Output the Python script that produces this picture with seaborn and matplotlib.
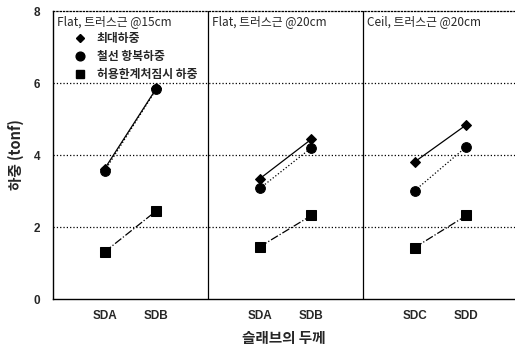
import matplotlib
matplotlib.use('Agg')
import matplotlib.pyplot as plt
import pandas as pd
import numpy as np
import seaborn as sns
from matplotlib.lines import Line2D

# data
panelTitles = ['Flat, 트러스근 @15cm', 'Flat, 트러스근 @20cm', 'Ceil, 트러스근 @20cm']
tickLabels = ['SDA', 'SDB', 'SDA', 'SDB', 'SDC', 'SDD']
seriesNames = ['최대하중', '철선 항복하중', '허용한계처짐시 하중']
maxLoad = [3.62, 5.85, 3.34, 4.44, 3.81, 4.84]
yieldLoad = [3.56, 5.83, 3.07, 4.20, 3.01, 4.23]
deflLoad = [1.31, 2.45, 1.45, 2.32, 1.43, 2.32]

xpos = [1, 2, 4, 5, 7, 8]
panel = [0, 0, 1, 1, 2, 2]

rows = []
for name, vals in zip(seriesNames, [maxLoad, yieldLoad, deflLoad]):
    for x, p, v in zip(xpos, panel, vals):
        rows.append({'x': x, 'panel': p, 'series': name, 'load': v})
df = pd.DataFrame(rows)

sns.set_style('white')
plt.rcParams['font.family'] = ['Noto Sans CJK KR', 'DejaVu Sans']

styles = {
    seriesNames[0]: dict(marker='D', ls='-', ms=5),
    seriesNames[1]: dict(marker='o', ls=':', ms=7),
    seriesNames[2]: dict(marker='s', ls='-.', ms=7),
}

fig = plt.figure(figsize=(5.15, 3.51), dpi=100)
ax = fig.add_axes([53/515, 1-299/351, 1-53/515, (299-11)/351])

for (name, p), g in df.groupby(['series', 'panel'], sort=False):
    st = styles[name]
    sns.lineplot(data=g, x='x', y='load', ax=ax, color='black', lw=0.9,
                 linestyle=st['ls'], marker=st['marker'], markersize=st['ms'],
                 markeredgecolor='black', markerfacecolor='black', legend=False)

ax.set_xlim(0, 8.94)
ax.set_ylim(0, 8)
ax.set_yticks([0, 2, 4, 6, 8])
ax.set_xticks(xpos)
ax.set_xticklabels(tickLabels, fontsize=8.5, fontweight='bold', family='Liberation Sans')
ax.set_yticklabels(['0', '2', '4', '6', '8'], fontsize=8.5, fontweight='bold', family='Liberation Sans')
ax.tick_params(axis='x', direction='in', length=3, pad=8)
ax.tick_params(axis='y', length=0, pad=9)

for yv in [2, 4, 6]:
    ax.axhline(yv, color='black', ls=':', lw=0.9)
for xv in [3, 6]:
    ax.axvline(xv, color='black', lw=0.9)

ax.spines['top'].set_linestyle(':')
ax.spines['top'].set_linewidth(0.9)
ax.spines['right'].set_visible(False)
ax.spines['left'].set_linewidth(1.0)
ax.spines['bottom'].set_linewidth(1.0)
for s in ['top', 'left', 'bottom']:
    ax.spines[s].set_color('black')

for i, t in enumerate(panelTitles):
    ax.text(0.08 + 3*i, 7.88, t, fontsize=8.5, va='top', ha='left')

handles = [Line2D([], [], color='black', ls='none', marker=styles[n]['marker'],
                  markersize=styles[n]['ms']*0.9) for n in seriesNames]
ax.legend(handles, seriesNames, loc='upper left', bbox_to_anchor=(0.01, 0.965),
          frameon=False, fontsize=8.5, handletextpad=0.4, labelspacing=0.45,
          prop={'weight': 'bold', 'size': 8.5})

ax.set_ylabel('하중 (tonf)', fontsize=10.5, fontweight='bold', labelpad=7)
ax.set_xlabel('슬래브의 두께', fontsize=10.5, fontweight='bold', labelpad=6)

fig.savefig('out.png', dpi=100)
